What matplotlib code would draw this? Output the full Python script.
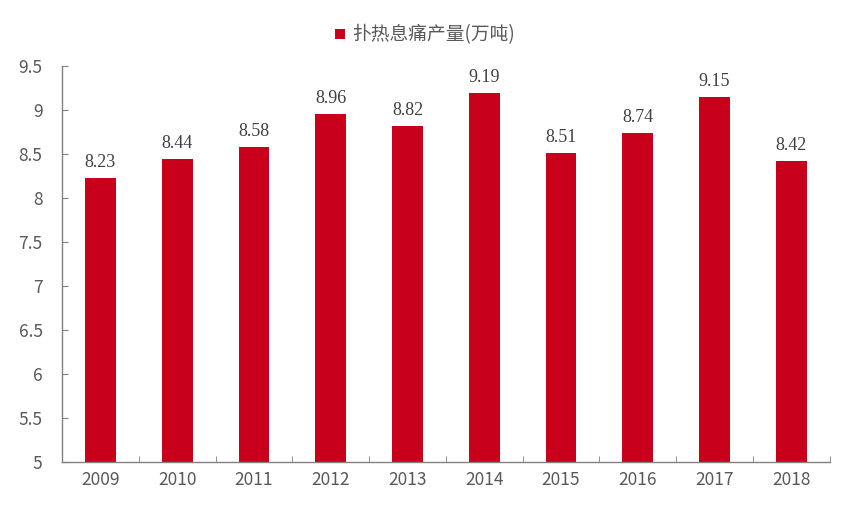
import numpy as np
import matplotlib.pyplot as plt

plt.rcParams['font.family'] = ['Noto Sans CJK SC', 'DejaVu Sans']

years = ['2009', '2010', '2011', '2012', '2013', '2014', '2015', '2016', '2017', '2018']
output = [8.23, 8.44, 8.58, 8.96, 8.82, 9.19, 8.51, 8.74, 9.15, 8.42]
yticks = [5, 5.5, 6, 6.5, 7, 7.5, 8, 8.5, 9, 9.5]
ytick_labels = ['5', '5.5', '6', '6.5', '7', '7.5', '8', '8.5', '9', '9.5']

bar_color = '#C8001C'
text_color = '#595959'

fig = plt.figure(figsize=(8.5, 5.09), dpi=100)
ax = fig.add_axes([0.073, 0.092, 0.903, 0.778])

x = np.arange(len(years))
bars = ax.bar(x, output, width=0.4, bottom=0, color=bar_color, label='扑热息痛产量(万吨)')
ax.set_ylim(5, 9.5)
ax.set_xlim(-0.5, len(years) - 0.5)

for xi, v in zip(x, output):
    ax.text(xi, v + 0.08, f'{v:.2f}', ha='center', va='bottom', fontsize=13,
            family='Liberation Serif', color='#404040')

ax.set_yticks(yticks)
ax.set_yticklabels(ytick_labels, fontsize=12.5, color=text_color)
ax.set_xticks(x)
ax.set_xticklabels(years, fontsize=12.5, color=text_color)
ax.tick_params(axis='x', length=0, pad=6)
ax.tick_params(axis='y', direction='in', length=4, color='#808080', pad=14)
# category boundary ticks on x axis
ax.set_xticks(np.arange(-0.5, len(years), 1), minor=True)
ax.tick_params(axis='x', which='minor', direction='in', length=4, color='#808080')

for s in ['top', 'right']:
    ax.spines[s].set_visible(False)
for s in ['left', 'bottom']:
    ax.spines[s].set_color('#808080')
    ax.spines[s].set_linewidth(1.0)

fig.legend(handles=[bars], loc='upper center', bbox_to_anchor=(0.5, 0.985), frameon=False,
           fontsize=13.5, handlelength=0.5, handleheight=0.5, handletextpad=0.4,
           labelcolor=text_color)

fig.savefig('out.png', dpi=100)
